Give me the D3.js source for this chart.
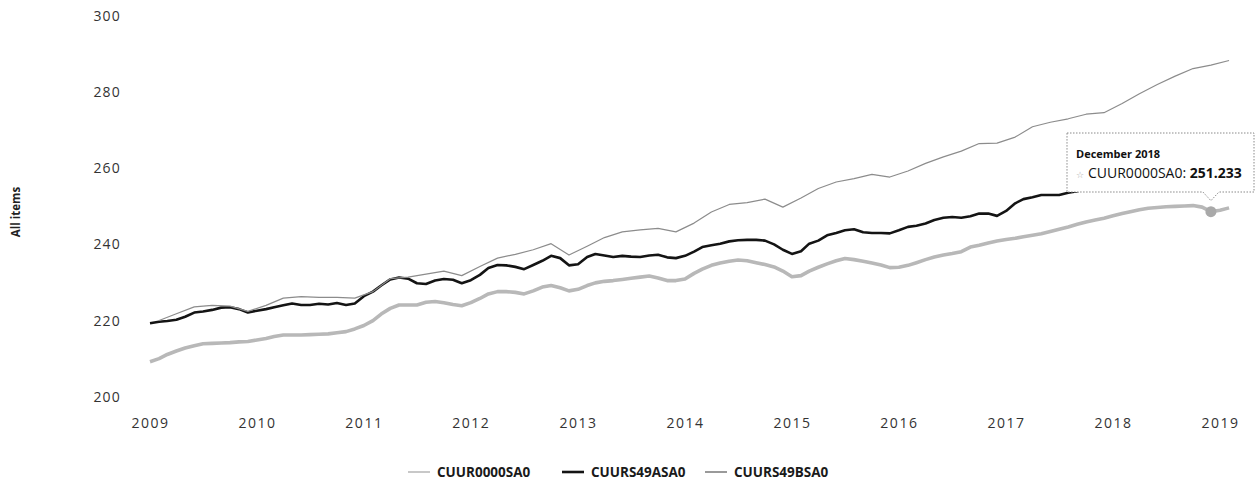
<!DOCTYPE html>
<html>
<head>
<meta charset="utf-8">
<script src="https://cdn.jsdelivr.net/npm/d3@7"></script>
<style>
  body { margin: 0; background: #fff; }
  svg { display: block; font-family: "Open Sans", "DejaVu Sans", sans-serif; }
</style>
</head>
<body>
<div id="chart"></div>
<script>
// tick labels
var yearTicks = [2009, 2010, 2011, 2012, 2013, 2014, 2015, 2016, 2017, 2018, 2019];
var valueTicks = [200, 220, 240, 260, 280, 300];
var seriesNames = ["CUUR0000SA0", "CUURS49ASA0", "CUURS49BSA0"];

// monthly, Jan 2009 - Feb 2019
var cuur0000 = [
  209.2, 210.0, 211.1, 212.0, 212.8, 213.4, 213.9, 214.0, 214.1, 214.2, 214.4, 214.5,
  214.9, 215.3, 215.8, 216.2, 216.2, 216.2, 216.3, 216.4, 216.5, 216.8, 217.1, 217.8,
  218.7, 220.0, 221.7, 223.2, 224.1, 224.1, 224.1, 224.8, 225.0, 224.7, 224.2, 223.9,
  224.7, 225.8, 227.0, 227.6, 227.6, 227.4, 227.0, 227.8, 228.8, 229.2, 228.6, 227.8,
  228.2, 229.2, 229.9, 230.3, 230.5, 230.8, 231.1, 231.4, 231.7, 231.2, 230.5, 230.5,
  230.9, 232.4, 233.5, 234.5, 235.1, 235.6, 235.9, 235.7, 235.2, 234.7, 234.1, 233.0,
  231.5, 231.8, 233.0, 234.0, 234.9, 235.7, 236.3, 236.0, 235.6, 235.1, 234.6, 233.9,
  234.0, 234.5, 235.2, 236.0, 236.7, 237.2, 237.6, 238.1, 239.3, 239.8, 240.4, 240.9,
  241.3, 241.6, 242.0, 242.4, 242.8, 243.4, 244.0, 244.6, 245.3, 245.9, 246.4, 246.9,
  247.5, 248.1, 248.6, 249.1, 249.5, 249.7, 249.9, 250.0, 250.1, 250.2, 249.8, 248.6,
  249.0, 249.6
];

// monthly, Jan 2009 - Feb 2019 (2018 onwards sits under the tooltip)
var cuurs49a = [
  219.3, 219.7, 219.9, 220.2, 221.0, 222.1, 222.4, 222.8, 223.4, 223.5, 223.0, 222.1,
  222.6, 223.0, 223.5, 224.0, 224.5, 224.1, 224.1, 224.4, 224.2, 224.6, 224.1, 224.5,
  226.4, 227.6, 229.2, 230.8, 231.3, 231.0, 229.8, 229.6, 230.5, 230.9, 230.7, 229.8,
  230.6, 232.0, 233.8, 234.6, 234.5, 234.1, 233.5, 234.6, 235.7, 237.0, 236.4, 234.5,
  234.8, 236.7, 237.5, 237.1, 236.7, 237.0, 236.8, 236.7, 237.1, 237.3, 236.6, 236.4,
  237.0, 238.1, 239.3, 239.8, 240.2, 240.8, 241.1, 241.2, 241.2, 241.0, 240.0, 238.6,
  237.5, 238.2, 240.2, 241.0, 242.4, 243.0, 243.7, 244.0, 243.2, 243.0, 243.0, 242.9,
  243.7, 244.6, 244.9, 245.5, 246.4, 247.0, 247.2, 247.0, 247.4, 248.1, 248.1, 247.5,
  248.8, 250.8, 251.9, 252.4, 253.0, 253.0, 253.0, 253.6, 254.0, 254.6, 255.2, 255.0,
  255.8, 256.6, 257.3, 257.9, 258.4, 258.2, 258.8, 259.3, 259.9, 260.2, 259.6, 259.4,
  260.1, 260.8
];

// bimonthly, Feb 2009 - Feb 2019
var cuurs49b = [
  220.0, 221.8, 223.6, 224.0, 223.8, 222.4,
  224.0, 225.9, 226.3, 226.1, 226.1, 225.9,
  227.6, 231.0, 231.4, 232.2, 233.0, 231.8,
  234.2, 236.4, 237.4, 238.6, 240.2, 237.2,
  239.5, 241.8, 243.3, 243.8, 244.2, 243.3,
  245.6, 248.5, 250.5, 251.0, 251.9, 249.8,
  252.2, 254.7, 256.4, 257.3, 258.4, 257.7,
  259.3, 261.3, 263.0, 264.5, 266.5, 266.6,
  268.2, 270.9, 272.1, 273.0, 274.2, 274.6,
  277.0, 279.6, 282.0, 284.2, 286.2, 287.1,
  288.3
];

var tipMonth = "December 2018";
var tipValue = "251.233";

var width = 1259, height = 495;
var start = new Date(2009, 0, 1);

function monthly(vals, first, step) {
    return vals.map(function(v, i) {
        return {date: d3.timeMonth.offset(start, first + i * step), value: v};
    });
}

var series = [
    {name: seriesNames[0], data: monthly(cuur0000, 0, 1), color: "#b8b8b8", w: 3.6, lw: 1.4, lc: "#b0b0b0"},
    {name: seriesNames[1], data: monthly(cuurs49a, 0, 1), color: "#141414", w: 2.6, lw: 2.6, lc: "#141414"},
    {name: seriesNames[2], data: monthly(cuurs49b, 1, 2), color: "#8c8c8c", w: 1.2, lw: 2, lc: "#9a9a9a"}
];

var svg = d3.select("#chart").append("svg")
    .attr("width", width)
    .attr("height", height);

var x = d3.scaleTime()
    .domain([new Date(yearTicks[0], 0, 1), new Date(yearTicks[yearTicks.length - 1], 0, 1)])
    .range([150, 1220]);
var y = d3.scaleLinear()
    .domain([valueTicks[0], valueTicks[valueTicks.length - 1]])
    .range([396.7, 16]);

// x axis
var xAxis = svg.append("g")
    .attr("transform", "translate(0,405)")
    .call(d3.axisBottom(x)
        .tickValues(yearTicks.map(function(yr) { return new Date(yr, 0, 1); }))
        .tickFormat(d3.timeFormat("%Y"))
        .tickSize(0)
        .tickPadding(13));
xAxis.select(".domain").remove();
xAxis.selectAll("text")
    .attr("fill", "#333")
    .style("font-size", "14px")
    .style("letter-spacing", "1.5px")
    .style("font-family", "'Open Sans', sans-serif");

// y axis
var yAxis = svg.append("g")
    .attr("transform", "translate(128,0)")
    .call(d3.axisLeft(y).tickValues(valueTicks).tickSize(0).tickPadding(7));
yAxis.select(".domain").remove();
yAxis.selectAll("text")
    .attr("fill", "#333")
    .style("font-size", "14px")
    .style("letter-spacing", "1.2px")
    .style("font-family", "'Open Sans', sans-serif");

svg.append("text")
    .attr("transform", "translate(20,212) rotate(-90)")
    .attr("text-anchor", "middle")
    .attr("fill", "#222")
    .style("font-size", "11.5px")
    .style("font-weight", "bold")
    .text("All items");

// lines
var line = d3.line()
    .x(function(d) { return x(d.date); })
    .y(function(d) { return y(d.value); });

svg.selectAll("path.series")
    .data(series)
    .enter().append("path")
    .attr("class", "series")
    .attr("fill", "none")
    .attr("stroke", function(d) { return d.color; })
    .attr("stroke-width", function(d) { return d.w; })
    .attr("stroke-linejoin", "round")
    .attr("d", function(d) { return line(d.data); });

// hovered point
var hover = series[0].data[119];
svg.append("circle")
    .attr("cx", x(hover.date))
    .attr("cy", y(hover.value))
    .attr("r", 5.5)
    .attr("fill", "#a9a9a9");

// tooltip
var tx = x(hover.date), ty = y(hover.value) - 11;
var bx0 = 1067, bx1 = 1254, by0 = 133, by1 = 192;
var tip = svg.append("g");
tip.append("path")
    .attr("d", "M" + bx0 + "," + by0 + "H" + bx1 + "V" + by1 +
        "H" + (tx + 8) + "L" + tx + "," + ty + "L" + (tx - 8) + "," + by1 +
        "H" + bx0 + "Z")
    .attr("fill", "#fff")
    .attr("stroke", "#8a8a8a")
    .attr("stroke-width", 1)
    .attr("stroke-dasharray", "1.5,1.5");
tip.append("text")
    .attr("x", 1076)
    .attr("y", 158)
    .attr("fill", "#111")
    .style("font-size", "11px")
    .style("font-weight", "bold")
    .text(tipMonth);
tip.append("text")
    .attr("x", 1076)
    .attr("y", 178)
    .attr("fill", "#aaa")
    .style("font-size", "9px")
    .text("\u2606");
var t2 = tip.append("text")
    .attr("x", 1088)
    .attr("y", 178)
    .attr("fill", "#111")
    .style("font-size", "14px");
t2.append("tspan").text(seriesNames[0] + ": ");
t2.append("tspan").style("font-weight", "bold").text(tipValue);

// legend
var legendX = [408, 562, 705];
var legend = svg.selectAll("g.legend")
    .data(series)
    .enter().append("g")
    .attr("class", "legend")
    .attr("transform", function(d, i) { return "translate(" + legendX[i] + ",472)"; });
legend.append("line")
    .attr("x1", 0).attr("x2", 22)
    .attr("y1", 0).attr("y2", 0)
    .attr("stroke", function(d) { return d.lc; })
    .attr("stroke-width", function(d) { return d.lw; });
legend.append("text")
    .attr("x", 29)
    .attr("dy", "0.35em")
    .attr("fill", "#1a1a1a")
    .style("font-size", "13.5px")
    .style("font-weight", "bold")
    .text(function(d) { return d.name; });
</script>
</body>
</html>
